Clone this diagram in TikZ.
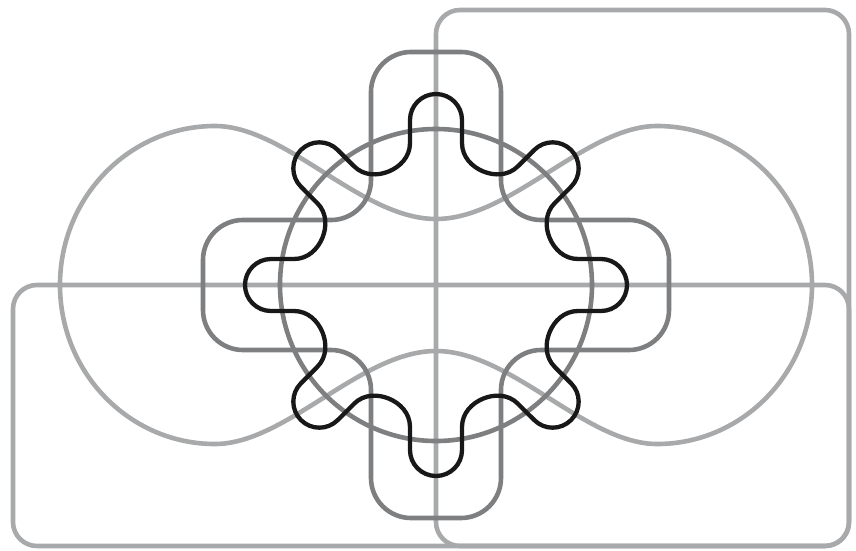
\documentclass[tikz,border=0pt]{standalone}
\usepackage{tikz}
\definecolor{PaleGrey}{RGB}{168,169,171}
\definecolor{MidGrey}{RGB}{126,127,129}
\definecolor{GearBlack}{RGB}{24,24,24}
\tikzset{
  paleset/.style={draw=PaleGrey,line width=4.6pt},
  midset/.style={draw=MidGrey,line width=4.6pt},
  gearset/.style={draw=GearBlack,line width=4.3pt,line join=round}
}
\begin{document}
\begin{tikzpicture}[x=1pt,y=1pt]
  \useasboundingbox (-436,-265) rectangle (420,285);
  \draw[paleset,rounded corners=24pt] (0,-261) rectangle (413,275);
  \draw[paleset,rounded corners=24pt] (-423,-261) rectangle (413,0);
  \draw[paleset] (0,66) .. controls (-75,66) and (-150,159) .. (-221,159)
    arc[start angle=90,end angle=270,x radius=155,y radius=159]
    .. controls (-150,-159) and (-75,-66) .. (0,-66)
    .. controls (75,-66) and (150,-159) .. (221,-159)
    arc[start angle=-90,end angle=90,x radius=155,y radius=159]
    .. controls (150,159) and (75,66) .. cycle;
  \draw[midset] (0,0) circle (156);
  \draw[midset,rounded corners=40pt] (65,150) -- (65,65)
    -- (233,65) -- (233,-65) -- (65,-65) -- (65,-233) -- (-65,-233)
    -- (-65,-65) -- (-233,-65) -- (-233,65) -- (-65,65) -- (-65,233)
    -- (65,233) -- cycle;
  \draw[gearset] (90:191)
    \foreach \ang in {90,45,...,-225} {
      .. controls (\ang-4.31:191.5) and (\ang-8.25:181.3) .. (\ang-8.96:167)
      -- (\ang-10.38:144.4)
      .. controls (\ang-11.48:130.6) and (\ang-16.94:123.6) .. (\ang-22.5:123)
      .. controls (\ang-28.06:123.6) and (\ang-33.52:130.6) .. (\ang-34.62:144.4)
      -- (\ang-36.04:167)
      .. controls (\ang-36.75:181.3) and (\ang-40.69:191.5) .. (\ang-45:191)
    } -- cycle;
\end{tikzpicture}
\end{document}
